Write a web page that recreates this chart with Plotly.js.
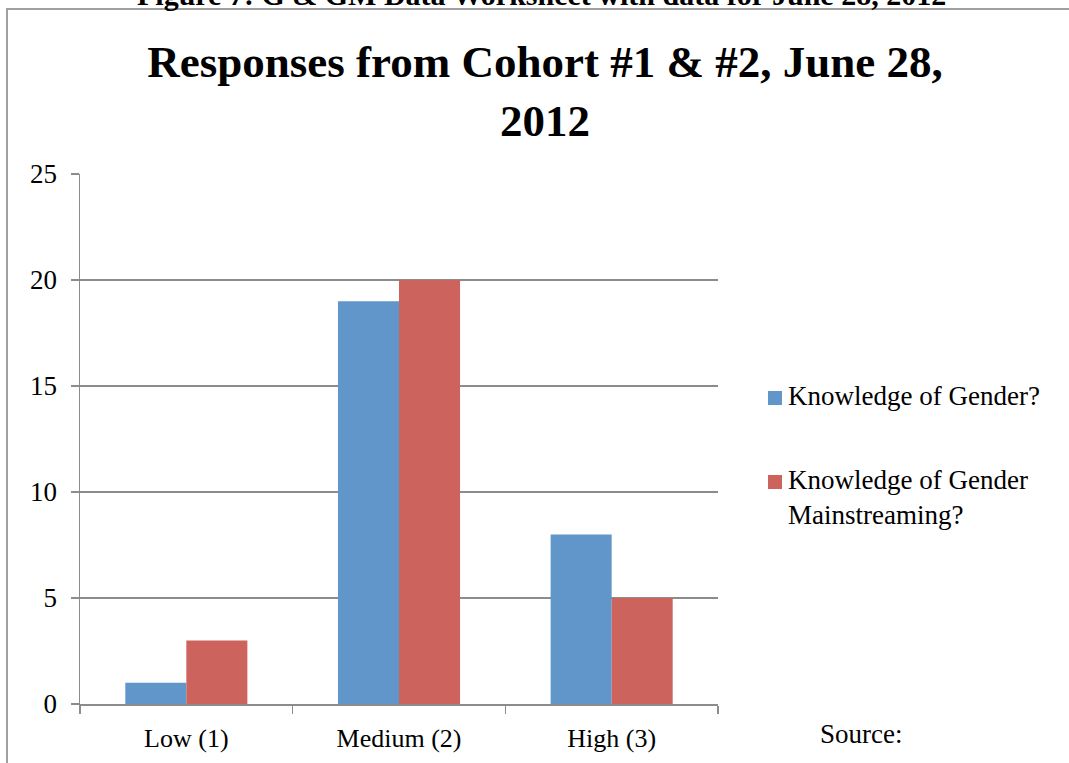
<!DOCTYPE html>
<html>
<head>
<meta charset="utf-8">
<script src="https://cdn.plot.ly/plotly-3.0.1.min.js"></script>
<style>
  html, body { margin: 0; padding: 0; background: #fff; }
  #chart { width: 1069px; height: 763px; }
</style>
</head>
<body>
<div id="chart"></div>
<script>
// Survey responses by self-rated knowledge level
const categories = ['Low (1)', 'Medium (2)', 'High (3)'];
const seriesNames = ['Knowledge of Gender?', 'Knowledge of Gender<br>Mainstreaming?'];
const genderKnowledge = [1, 19, 8];
const mainstreamingKnowledge = [3, 20, 5];
const yTicks = [0, 5, 10, 15, 20, 25];

const colors = ['#6196CA', '#CC645D'];
const serif = 'Liberation Serif, DejaVu Serif, serif';
const grey = '#8C8C8C';

// Plot area in pixels
const W = 1069, H = 763;
const M = { l: 80, r: 351, t: 174, b: 59 };
const pw = W - M.l - M.r, ph = H - M.t - M.b;
const px = x => (x - M.l) / pw;
const py = y => 1 - (y - M.t) / ph;

const traces = [genderKnowledge, mainstreamingKnowledge].map((vals, i) => ({
  type: 'bar',
  name: seriesNames[i],
  x: categories,
  y: vals,
  marker: { color: colors[i] },
  showlegend: false,
  hoverinfo: 'x+y'
}));

// Hand-placed legend next to the plot
const legendRows = [398, 482];
const shapes = [];
const annotations = [];
seriesNames.forEach((name, i) => {
  const yc = legendRows[i];
  shapes.push({
    type: 'rect', xref: 'paper', yref: 'paper',
    x0: px(768), x1: px(782), y0: py(yc - 7), y1: py(yc + 7),
    fillcolor: colors[i], line: { width: 0 }
  });
  annotations.push({
    xref: 'paper', yref: 'paper', x: px(786), y: py(yc - 19),
    xanchor: 'left', yanchor: 'top', align: 'left',
    text: name, showarrow: false,
    font: { family: serif, size: 27, color: '#000' }
  });
});

// Outer frame (left and top edges)
shapes.push({ type: 'line', xref: 'paper', yref: 'paper',
  x0: px(7), x1: px(7), y0: py(9), y1: py(780), line: { color: '#A0A0A0', width: 2 } });
shapes.push({ type: 'line', xref: 'paper', yref: 'paper',
  x0: px(6), x1: px(1080), y0: py(9), y1: py(9), line: { color: '#A0A0A0', width: 2 } });

// Caption above the frame
annotations.push({
  xref: 'paper', yref: 'paper', x: px(541), y: py(-6),
  xanchor: 'center', yanchor: 'middle', showarrow: false,
  text: '<b>Figure 7: G &amp; GM Data Worksheet with data for June 28, 2012</b>',
  font: { family: serif, size: 30, color: '#000' }
});

annotations.push({
  xref: 'paper', yref: 'paper', x: px(818), y: py(734),
  xanchor: 'left', yanchor: 'middle', showarrow: false,
  text: 'Source:',
  font: { family: serif, size: 27, color: '#000' }
});

const layout = {
  width: W, height: H,
  margin: M,
  paper_bgcolor: '#fff', plot_bgcolor: '#fff',
  barmode: 'group',
  bargap: 0.426,
  bargroupgap: 0,
  title: {
    text: '<b>Responses from Cohort #1 &amp; #2, June 28,<br>2012</b>',
    x: 545 / W, xanchor: 'center',
    y: 1 - 77 / H, yanchor: 'middle',
    font: { family: serif, size: 45, color: '#000' }
  },
  xaxis: {
    type: 'category',
    showline: true, linecolor: grey, linewidth: 1.5,
    ticks: 'outside', tickson: 'boundaries', ticklen: 8, tickcolor: grey, tickwidth: 1.5,
    showgrid: false, zeroline: false,
    tickfont: { family: serif, size: 26, color: '#000' },
    ticklabelstandoff: 10
  },
  yaxis: {
    range: [0, 25],
    tickvals: yTicks,
    showline: true, linecolor: grey, linewidth: 1.5,
    ticks: 'outside', ticklen: 8, tickcolor: grey, tickwidth: 1.5,
    showgrid: true, gridcolor: grey, gridwidth: 1.5,
    zeroline: false,
    tickfont: { family: serif, size: 27, color: '#000' },
    ticklabelstandoff: 8
  },
  shapes: shapes,
  annotations: annotations,
  showlegend: false
};

Plotly.newPlot('chart', traces, layout, { displayModeBar: false, staticPlot: true });
</script>
</body>
</html>
